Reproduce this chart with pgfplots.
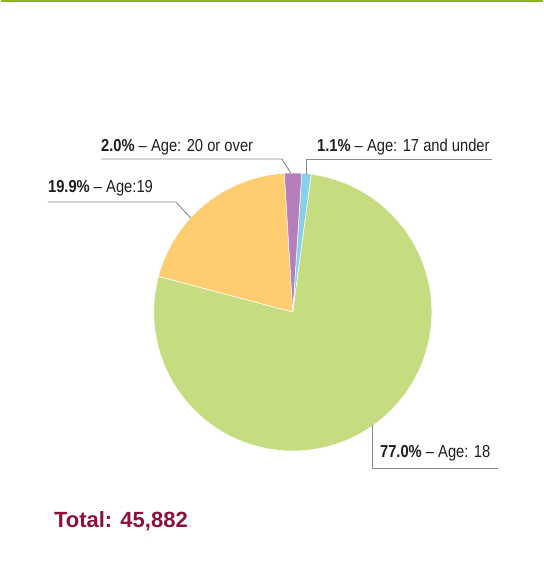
\documentclass[border=0pt]{standalone}
\usepackage{pgfplots}
\pgfplotsset{compat=1.18}
\usepackage{fontspec}
\setmainfont{Liberation Sans}[FakeStretch=0.85]
\newfontfamily\totalfont{Liberation Sans}

\definecolor{sky}{HTML}{86D0EA}
\definecolor{grn}{HTML}{C5DD80}
\definecolor{yel}{HTML}{FFCC70}
\definecolor{pur}{HTML}{B47FBB}
\definecolor{topline}{HTML}{8DB41E}
\definecolor{maroon}{HTML}{8C1039}
\definecolor{lead}{HTML}{8A8A8A}

\begin{document}
\begin{tikzpicture}
\begin{axis}[
    x=0.75pt, y=0.75pt,
    xmin=0, xmax=542, ymin=0, ymax=569,
    hide axis,
    clip=false,
]
% keep the full canvas in the bounding box
\path (axis cs:0,0) rectangle (axis cs:542,569);
% top rule
\draw[topline, line width=1.2pt] (axis cs:0,568.2) -- (axis cs:542,568.2);

% pie slices, clockwise (share in %)
\xdef\startang{86.3}
\foreach \v/\c in {1.1/sky, 77.0/grn, 19.9/yel, 2.0/pur}{
  \pgfmathsetmacro\endang{\startang-3.6*\v}
  \edef\temp{\noexpand\fill[\c, draw=white, line width=0.4pt]
    (axis cs:292,257) -- (axis cs:{292+139*cos(\startang)},{257+139*sin(\startang)})
    arc[start angle=\startang, end angle=\endang, radius=104.25pt] -- cycle;}
  \temp
  \xdef\startang{\endang}
}

% leader lines
\draw[lead, line width=0.7pt] (axis cs:100,410) -- (axis cs:281,410) -- (axis cs:290,396);
\draw[lead, line width=0.7pt] (axis cs:47,367) -- (axis cs:175,367) -- (axis cs:190,351);
\draw[lead, line width=0.7pt] (axis cs:491,410) -- (axis cs:306,410) -- (axis cs:306,394);
\draw[lead, line width=0.7pt] (axis cs:372,144) -- (axis cs:372,101) -- (axis cs:497,101);

% labels
\begin{scope}[every node/.style={inner sep=0pt, font=\fontsize{13}{15}\selectfont, text=black!88}]
\node[anchor=base west] at (axis cs:100,417) {\textbf{2.0\%} -- Age: 20 or over};
\node[anchor=base west] at (axis cs:316,417) {\textbf{1.1\%} -- Age: 17 and under};
\node[anchor=base west] at (axis cs:47,376) {\textbf{19.9\%} -- Age:19};
\node[anchor=base west] at (axis cs:379,111) {\textbf{77.0\%} -- Age: 18};
\end{scope}

\node[anchor=base west, inner sep=0pt, text=maroon,
      font=\totalfont\fontsize{16.5}{18}\selectfont\bfseries] at (axis cs:53,41) {Total: 45,882};
\end{axis}
\end{tikzpicture}
\end{document}
